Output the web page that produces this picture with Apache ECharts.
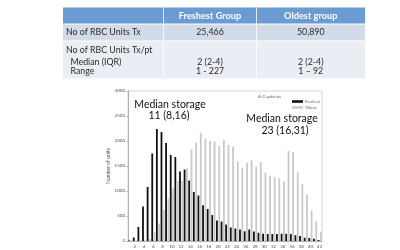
<!DOCTYPE html>
<html><head><meta charset="utf-8">
<script src="https://cdn.jsdelivr.net/npm/echarts@6/dist/echarts.min.js"></script>
<style>html,body{margin:0;padding:0;background:#fff}#c{width:400px;height:250px}</style>
</head><body><div id="c"></div>
<script>
// ---- data ----
const days = Array.from({length: 42}, (_, i) => String(i + 1));
const freshest = [10, 70, 280, 690, 1080, 1750, 2240, 2180, 1960, 1720, 1680, 1390, 1430,
  1210, 980, 910, 715, 640, 520, 410, 390, 330, 270, 250, 230, 195, 230, 190, 165,
  145, 140, 140, 140, 145, 145, 140, 115, 100, 65, 60, 45, 20];
const oldest = [0, 0, 0, 10, 40, 180, 350, 620, 850, 1050, 1200, 1200, 1450,
  1830, 1967, 2167, 2045, 2000, 1990, 1900, 2025, 1920, 1885, 1590, 1460, 1565, 1615, 1490, 1578,
  1370, 1307, 1280, 1253, 1190, 1805, 1778, 1373, 1143, 923, 610, 396, 190];
const yTicks = [0, 500, 1000, 1500, 2000, 2500, 3000];
const tableHeader = ['', 'Freshest Group', 'Oldest group'];
const tableRow1 = ['No of RBC Units Tx', '25,466', '50,890'];
const tableRow2Labels = ['No of RBC Units Tx/pt', '  Median (IQR)', '  Range'];
const tableRow2Fresh = ['', '2 (2-4)', '1 - 227'];
const tableRow2Old = ['', '2 (2-4)', '1 \u2013 92'];
const annoLeft = ['Median storage', '11 (8,16)'];
const annoRight = ['Median storage', '23 (16,31)'];

const FONT = 'Lato';
const TF = '8.8px ' + FONT;
const chart = echarts.init(document.getElementById('c'));

// table graphics
const tx0 = 63, tx1 = 163.5, tx2 = 256.5, tx3 = 365;
const ty0 = 7.5, ty1 = 24, ty2 = 41, ty3 = 78.5;
const g = [];
g.push({type:'rect', shape:{x:tx0, y:ty0, width:tx3-tx0, height:ty1-ty0}, style:{fill:'#6b9bd3'}});
g.push({type:'rect', shape:{x:tx0, y:ty1, width:tx3-tx0, height:ty2-ty1}, style:{fill:'#d3dae8'}});
g.push({type:'rect', shape:{x:tx0, y:ty2, width:tx3-tx0, height:ty3-ty2}, style:{fill:'#eaedf4'}});
g.push({type:'line', shape:{x1:tx0, y1:ty1, x2:tx3, y2:ty1}, style:{stroke:'#fff', lineWidth:1}});
g.push({type:'line', shape:{x1:tx0, y1:ty2, x2:tx3, y2:ty2}, style:{stroke:'#fff', lineWidth:1}});
g.push({type:'line', shape:{x1:tx1, y1:ty0, x2:tx1, y2:ty3}, style:{stroke:'#fff', lineWidth:0.8}});
g.push({type:'line', shape:{x1:tx2, y1:ty0, x2:tx2, y2:ty3}, style:{stroke:'#fff', lineWidth:0.8}});
const c1 = (tx1+tx2)/2, c2 = (tx2+tx3)/2;
g.push({type:'text', x:c1, y:(ty0+ty1)/2, style:{text:tableHeader[1], fill:'#fff', font:'bold 9.2px '+FONT, align:'center', verticalAlign:'middle'}});
g.push({type:'text', x:c2, y:(ty0+ty1)/2, style:{text:tableHeader[2], fill:'#fff', font:'bold 9.2px '+FONT, align:'center', verticalAlign:'middle'}});
const rowMid1 = (ty1+ty2)/2;
g.push({type:'text', x:66, y:rowMid1, style:{text:tableRow1[0], fill:'#2a2a2a', font:TF, align:'left', verticalAlign:'middle'}});
g.push({type:'text', x:c1, y:rowMid1, style:{text:tableRow1[1], fill:'#2a2a2a', font:TF, align:'center', verticalAlign:'middle'}});
g.push({type:'text', x:c2, y:rowMid1, style:{text:tableRow1[2], fill:'#2a2a2a', font:TF, align:'center', verticalAlign:'middle'}});
const lineYs = [50, 62, 71.5];
tableRow2Labels.forEach((t, i) => {
  g.push({type:'text', x:66, y:lineYs[i], style:{text:t, fill:'#2a2a2a', font:TF, align:'left', verticalAlign:'middle'}});
  g.push({type:'text', x:c1, y:lineYs[i], style:{text:tableRow2Fresh[i], fill:'#2a2a2a', font:TF, align:'center', verticalAlign:'middle'}});
  g.push({type:'text', x:c2, y:lineYs[i], style:{text:tableRow2Old[i], fill:'#2a2a2a', font:TF, align:'center', verticalAlign:'middle'}});
});
// annotations
g.push({type:'text', x:170, y:105, style:{text:annoLeft[0], fill:'#111', font:'10.5px '+FONT, align:'center', verticalAlign:'middle'}});
g.push({type:'text', x:169, y:115.5, style:{text:annoLeft[1], fill:'#111', font:'10.5px '+FONT, align:'center', verticalAlign:'middle'}});
g.push({type:'text', x:282, y:119, style:{text:annoRight[0], fill:'#111', font:'10.5px '+FONT, align:'center', verticalAlign:'middle'}});
g.push({type:'text', x:285, y:131, style:{text:annoRight[1], fill:'#111', font:'10.5px '+FONT, align:'center', verticalAlign:'middle'}});
g.push({type:'text', x:258, y:97, style:{text:'A/O patients', fill:'#666', font:'4px '+FONT, align:'left', verticalAlign:'middle'}});

chart.setOption({
  animation: false,
  backgroundColor: '#fff',
  textStyle: {fontFamily: FONT},
  grid: {left: 128, right: 78, top: 91, bottom: 9, show: true, borderColor: '#bbb', borderWidth: 0.6},
  legend: {
    orient: 'vertical', left: 287, top: 94.5, itemWidth: 11, itemHeight: 2.6, itemGap: 2,
    textStyle: {fontSize: 4, color: '#666', fontFamily: FONT, padding: [0,0,0,-3]},
    data: [{name:'Freshest', icon:'rect'}, {name:'Oldest', icon:'rect'}]
  },
  xAxis: {
    type: 'category', data: days,
    axisLine: {lineStyle: {color: '#888', width: 0.6}},
    axisTick: {show: false},
    axisLabel: {fontSize: 4.5, color: '#555', margin: 3, interval: 0,
      formatter: v => (Number(v) % 2 === 0 ? v : '')}
  },
  yAxis: {
    type: 'value', min: 0, max: 3000, interval: 500,
    name: 'Number of units', nameLocation: 'middle', nameGap: 17,
    nameTextStyle: {fontSize: 5, color: '#555'},
    splitLine: {show: false},
    axisLine: {show: true, lineStyle: {color: '#888', width: 0.6}},
    axisTick: {show: true, length: 2, lineStyle: {color: '#888', width: 0.5}},
    axisLabel: {fontSize: 4.5, color: '#555', margin: 3, formatter: v => String(v)}
  },
  series: [
    {name: 'Freshest', type: 'bar', data: freshest, barWidth: 1.8, barGap: '30%', itemStyle: {color: '#111'}},
    {name: 'Oldest', type: 'bar', data: oldest, barWidth: 1.8, itemStyle: {color: '#c9c9c9'}}
  ],
  graphic: g
});
</script></body></html>
